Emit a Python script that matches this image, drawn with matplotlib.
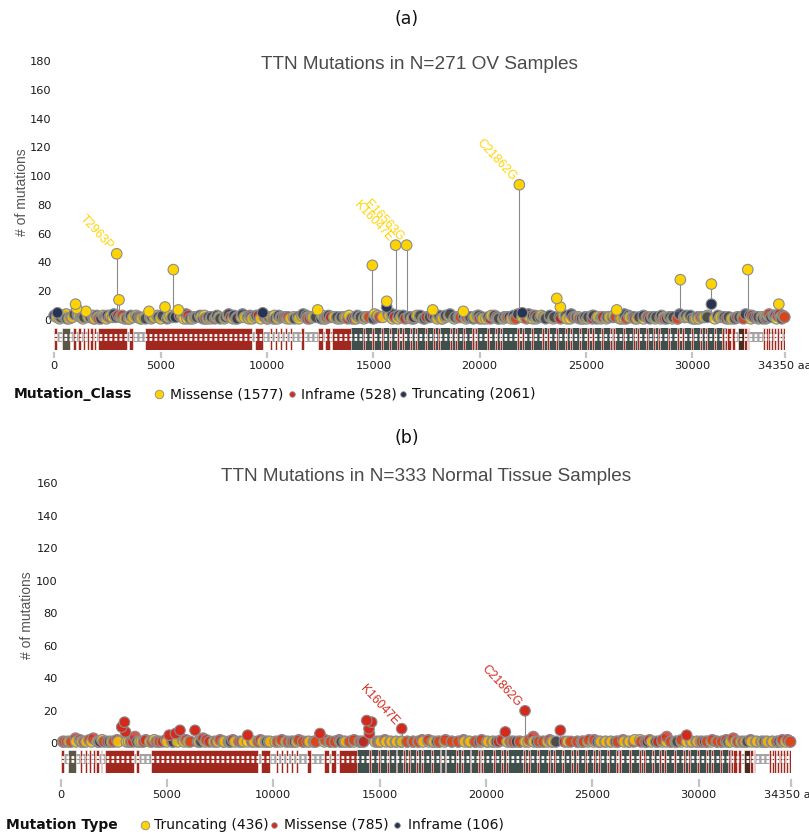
import matplotlib
matplotlib.use('Agg')
import matplotlib.pyplot as plt
from matplotlib.patches import Rectangle
from matplotlib.colors import to_rgba

# ---------------- data ----------------
PROTEIN_LENGTH = 34350
XTICKS = [0, 5000, 10000, 15000, 20000, 25000, 30000, 34350]
XTICK_LABELS = ['0', '5000', '10000', '15000', '20000', '25000', '30000', '34350 aa']
YTICKS_A = [0, 20, 40, 60, 80, 100, 120, 140, 160, 180]
YTICKS_B = [0, 20, 40, 60, 80, 100, 120, 140, 160]

# Panel (a): OV samples  (position, # of mutations)
ov_missense = [(120, 2), (420, 3), (700, 1), (1000, 11), (1050, 8), (1250, 2), (1490, 6), (1900, 1),
               (2300, 3), (2750, 2), (2933, 46), (3042, 14), (3300, 1), (3700, 2), (4100, 1), (4452, 6),
               (4700, 2), (5000, 1), (5205, 9), (5450, 3), (5596, 35), (5830, 7), (6100, 1), (6500, 1),
               (6900, 2), (7200, 1), (7600, 2), (8000, 1), (8400, 1), (8800, 2), (9300, 1), (9700, 1),
               (9900, 3), (10200, 2), (10500, 1), (10800, 2), (11100, 1), (11500, 1), (11900, 2), (12383, 7),
               (12600, 3), (12900, 2), (13300, 1), (13700, 2), (14200, 1), (14700, 2), (14950, 38), (15200, 3),
               (15626, 13), (15900, 1), (16047, 52), (16300, 2), (16563, 52), (16800, 1), (17200, 2), (17790, 7),
               (18000, 1), (18400, 2), (18800, 1), (19230, 6), (19500, 2), (19900, 3), (20300, 1), (20700, 2),
               (21100, 1), (21500, 1), (21862, 94), (22000, 2), (22500, 1), (22900, 3), (23300, 2), (23620, 15),
               (23790, 9), (24100, 1), (24500, 2), (24900, 1), (25300, 3), (25700, 1), (26100, 2), (26440, 7),
               (26800, 1), (27200, 2), (27700, 1), (28100, 2), (28500, 1), (28900, 2), (29300, 1), (29430, 28),
               (29800, 2), (30300, 1), (30700, 3), (30890, 25), (31300, 2), (31700, 1), (32200, 2), (32600, 35),
               (33100, 1), (33400, 2), (33800, 3), (34060, 11), (34150, 2),
               (250, 1), (560, 4), (850, 2), (1150, 3), (1350, 1), (1600, 2), (1800, 3), (2050, 2),
               (2450, 1), (2650, 3), (3150, 2), (3550, 1), (3850, 3), (4250, 2), (4550, 1), (4850, 3),
               (5350, 2), (6000, 3), (6250, 1), (6650, 2), (7050, 3), (7350, 1), (7750, 2), (8150, 3),
               (8550, 1), (8950, 2), (9150, 1), (9450, 2), (10050, 1), (10350, 3), (10650, 2), (10950, 1),
               (11250, 2), (11650, 3), (12150, 2), (12750, 1), (13150, 2), (13450, 1), (13850, 3), (14350, 2),
               (14550, 1), (15050, 4), (15450, 2), (15750, 3), (16150, 1), (16650, 2), (17050, 3), (17350, 1),
               (17650, 2), (18250, 1), (18550, 3), (19050, 2), (19350, 1), (19750, 2), (20150, 1), (20550, 3),
               (20850, 1), (21250, 2), (21650, 1), (22150, 3), (22350, 2), (22650, 1), (23050, 2), (23450, 1),
               (23950, 3), (24250, 1), (24650, 2), (25050, 1), (25550, 2), (25950, 1), (26300, 3), (26650, 1),
               (27050, 2), (27400, 1), (27850, 2), (28250, 1), (28650, 2), (29050, 1), (29650, 2), (30150, 1),
               (30550, 2), (31050, 1), (31450, 2), (31850, 1), (32350, 2), (32750, 1), (33250, 2), (33550, 3),
               (33950, 1), (34300, 2)]
ov_inframe = [(800, 2), (2100, 1), (2600, 2), (3200, 3), (3500, 1), (4000, 2), (6300, 3), (7100, 1),
              (8600, 2), (9600, 3), (10000, 1), (11000, 2), (12000, 1), (13000, 2), (14100, 1), (15300, 2),
              (16500, 1), (17500, 2), (18200, 1), (19400, 2), (20500, 1), (21300, 2), (22200, 1), (23000, 2),
              (24700, 1), (25800, 2), (26900, 1), (27900, 2), (28700, 1), (29600, 2), (30100, 1), (31200, 2),
              (32400, 1), (33000, 2), (33600, 4), (34000, 3), (34250, 3),
              (450, 3), (1300, 2), (1850, 1), (2400, 2), (3000, 3), (4500, 2), (5900, 3), (6600, 2),
              (7550, 1), (8300, 2), (9200, 3), (9900, 2), (10300, 1), (10800, 2), (11900, 1), (12800, 2),
              (13800, 1), (14800, 2), (16000, 2), (16900, 1), (17800, 3), (19100, 2), (20000, 1), (20800, 2),
              (21700, 1), (22600, 3), (23800, 1), (24400, 2), (25300, 1), (26400, 2), (27300, 1), (28500, 2),
              (29300, 1), (30400, 2), (31600, 1), (32100, 2), (32800, 3), (33450, 1), (33850, 3), (34100, 4),
              (34330, 2)]
ov_truncating = [(0, 3), (300, 2), (600, 1), (950, 4), (1700, 2), (2200, 1), (2500, 3), (2900, 2),
                 (3400, 1), (3900, 2), (4300, 1), (4900, 2), (5300, 1), (5700, 2), (6400, 1), (6700, 2),
                 (7000, 1), (7400, 2), (7800, 1), (8200, 4), (8600, 1), (9100, 2), (9500, 3), (10400, 1),
                 (10700, 2), (11300, 1), (11700, 4), (12100, 2), (12700, 1), (13500, 2), (14000, 1), (14400, 2),
                 (15000, 1), (15626, 9), (15700, 4), (16200, 3), (16700, 2), (17400, 1), (17900, 2), (18600, 4),
                 (19000, 2), (19700, 1), (20100, 2), (20900, 1), (21400, 2), (21800, 4), (22300, 4), (22700, 2),
                 (23100, 1), (23500, 2), (24300, 4), (24800, 1), (25100, 2), (25500, 1), (26000, 2), (26600, 1),
                 (27000, 3), (27500, 2), (28000, 1), (28300, 2), (28800, 1), (29100, 2), (29700, 3), (30000, 1),
                 (30500, 2), (30890, 11), (31500, 2), (32000, 1), (32500, 4), (32900, 2), (33300, 1), (33700, 2),
                 (150, 5), (500, 3), (1100, 4), (1400, 2), (2000, 3), (2350, 2), (2800, 4), (3100, 2),
                 (3600, 3), (4050, 1), (4600, 2), (5100, 3), (5550, 2), (6200, 4), (6850, 3), (7250, 2),
                 (7650, 3), (8050, 2), (8450, 3), (8850, 4), (9250, 2), (9800, 5), (10100, 2), (10550, 3),
                 (10900, 2), (11450, 2), (11850, 3), (12300, 2), (12550, 1), (12900, 3), (13300, 2), (13650, 2),
                 (14250, 3), (14600, 2), (15150, 2), (15900, 4), (16400, 3), (16900, 2), (17200, 3), (17650, 2),
                 (18100, 3), (18400, 3), (18850, 2), (19250, 3), (19550, 2), (19950, 3), (20400, 2), (20700, 3),
                 (21150, 2), (21600, 3), (22000, 5), (22500, 3), (22850, 2), (23300, 3), (23750, 2), (24050, 3),
                 (24550, 2), (24950, 2), (25350, 3), (25750, 2), (26250, 2), (26800, 4), (27250, 2), (27700, 3),
                 (28150, 2), (28550, 3), (28950, 2), (29400, 4), (29900, 3), (30250, 2), (30700, 2), (31200, 3),
                 (31700, 2), (32200, 2), (32700, 3), (33100, 2), (33500, 2), (33900, 3), (34200, 1)]
ov_labels = [(2933, 46, 'T2963P'), (16047, 52, 'K16047E'), (16563, 52, 'E16563G'), (21862, 94, 'C21862G')]
ov_legend = ['Missense (1577)', 'Inframe (528)', 'Truncating (2061)']

# Panel (b): normal tissue samples
nt_missense = [(300, 1), (700, 3), (1535, 3), (2036, 1), (2500, 1), (2870, 10), (3000, 13), (3050, 7),
               (3300, 1), (3495, 4), (3900, 1), (4500, 1), (4800, 1), (5100, 5), (5400, 6), (5611, 8),
               (5900, 2), (6317, 8), (6700, 3), (7000, 1), (7500, 2), (7900, 1), (8400, 1), (8795, 5),
               (9300, 1), (9800, 1), (10400, 2), (10900, 1), (11400, 1), (11900, 1), (12193, 6), (12700, 1),
               (13100, 2), (13600, 1), (14100, 1), (14393, 14), (14628, 13), (14500, 9), (14520, 6), (15000, 1),
               (15500, 1), (16039, 9), (16600, 1), (17000, 2), (17500, 1), (18100, 2), (18700, 1), (19200, 1),
               (19800, 2), (20300, 1), (20600, 1), (20913, 7), (21300, 1), (21840, 20), (22230, 4), (22700, 1),
               (23100, 1), (23500, 8), (24000, 1), (24600, 1), (25100, 2), (25600, 1), (26200, 1), (26700, 1),
               (27300, 1), (27700, 2), (28100, 1), (28504, 4), (28900, 1), (29444, 5), (29900, 1), (30400, 1),
               (30900, 1), (31300, 2), (31637, 3), (32100, 1), (32700, 1), (33200, 1), (33700, 1), (34196, 2),
               (150, 1), (500, 1), (900, 2), (1100, 1), (1350, 2), (1800, 1), (2200, 1), (2650, 2),
               (3400, 1), (4000, 2), (4300, 1), (4650, 1), (4950, 2), (5250, 1), (5750, 2), (6100, 1),
               (6450, 1), (6850, 2), (7300, 1), (7650, 1), (8100, 2), (8500, 1), (9000, 1), (9400, 2),
               (9650, 1), (10200, 1), (10700, 1), (11200, 2), (11600, 1), (12000, 1), (12450, 2), (12900, 1),
               (13350, 1), (13800, 2), (14250, 1), (14900, 1), (15250, 2), (15750, 1), (16300, 1), (16850, 1),
               (17300, 2), (17800, 1), (18400, 1), (18950, 2), (19500, 1), (20050, 1), (20750, 2), (21150, 1),
               (21600, 1), (22050, 2), (22500, 1), (23000, 2), (23700, 1), (24300, 1), (24850, 2), (25350, 1),
               (25850, 1), (26450, 2), (26950, 1), (27500, 1), (28300, 2), (28700, 1), (29200, 2), (29650, 1),
               (30150, 1), (30650, 2), (31100, 1), (31850, 1), (32450, 2), (32950, 1), (33450, 1), (33950, 2),
               (34320, 1)]
nt_truncating = [(100, 1), (720, 1), (1200, 1), (1720, 1), (2700, 1), (3200, 1), (3700, 1), (4200, 1),
                 (4400, 2), (5000, 1), (5800, 1), (6500, 1), (7200, 1), (7700, 1), (8200, 1), (8600, 1),
                 (9100, 1), (9500, 1), (10100, 1), (10600, 1), (11100, 1), (11700, 1), (12400, 1), (12900, 1),
                 (13400, 1), (13800, 1), (14800, 1), (15300, 1), (15800, 1), (16300, 1), (16800, 1), (17300, 1),
                 (17800, 1), (18400, 1), (19000, 1), (19500, 1), (20100, 1), (21000, 1), (21600, 1), (22000, 1),
                 (22500, 1), (22900, 1), (24300, 1), (24800, 1), (25400, 1), (25900, 1), (26500, 1), (27000, 2),
                 (27500, 1), (28300, 1), (28700, 1), (29200, 1), (29700, 1), (30100, 1), (30600, 1), (31100, 1),
                 (31500, 1), (32000, 1), (32500, 1), (33000, 1), (33500, 1), (33900, 1), (34300, 1),
                 (400, 1), (1000, 1), (1450, 1), (1950, 2), (2400, 1), (3100, 1), (3800, 1), (4600, 1),
                 (5500, 1), (6000, 1), (6800, 1), (7400, 1), (7950, 1), (8800, 1), (9300, 1), (9850, 1),
                 (10350, 1), (10850, 1), (11400, 1), (11950, 1), (12650, 1), (13150, 1), (13600, 1), (14050, 1),
                 (15050, 1), (15550, 1), (16050, 1), (16550, 1), (17050, 1), (17550, 1), (18050, 1), (18700, 1),
                 (19250, 1), (19800, 1), (20350, 1), (21250, 1), (21850, 1), (22250, 1), (22700, 1), (23150, 1),
                 (23850, 1), (24550, 1), (25050, 1), (25650, 1), (26200, 1), (26750, 1), (27250, 2), (27800, 1),
                 (28500, 1), (28950, 1), (29450, 1), (29950, 1), (30400, 1), (30850, 1), (31300, 1), (31750, 1),
                 (32200, 1), (32750, 1), (33250, 1), (33700, 1), (34100, 1)]
nt_inframe = [(954, 1), (2300, 1), (3600, 1), (5300, 1), (8000, 1), (11000, 1), (13200, 1), (16000, 1),
              (19700, 1), (20500, 1), (22400, 1), (23300, 1), (24500, 1), (26100, 1), (28000, 1), (30300, 1),
              (32300, 1), (33800, 1), (1850, 1), (6600, 1), (9700, 1), (14200, 1), (17700, 1), (21450, 1),
              (25250, 1), (27600, 1), (29000, 1), (31400, 1), (33100, 1)]
nt_labels = [(16039, 9, 'K16047E'), (21840, 20, 'C21862G')]
nt_legend = ['Truncating (436)', 'Missense (785)', 'Inframe (106)']

# Protein domains (start, end)
dom_ig = [(0, 140), (890, 1020), (1130, 1240), (1330, 1440), (1520, 1630), (1680, 1800), (1880, 1960),
          (2070, 3430), (3530, 3690), (4265, 9280), (9430, 9830), (10140, 10220), (10380, 10460),
          (10610, 10690), (10850, 10930), (11080, 11160), (11600, 11760), (12400, 12640), (12730, 12970),
          (13070, 13930), (31610, 31800), (31850, 32000), (32425, 32550), (32600, 32660)]
dom_ig_stripes = [14500, 14923, 15360, 15750, 16098, 16333, 16730, 16965, 17430, 17820, 18055, 18600,
                  18840, 19230, 19620, 19775, 20330, 20720, 20960, 21740, 21975, 22400, 22915, 23150,
                  23600, 24010, 24250, 24650, 25030, 25265, 25700, 26125, 26280, 26750, 27220, 27380,
                  27800, 28160, 28395, 28850, 29255, 29490, 29950, 30355, 30590, 31000, 31375, 31530,
                  33300, 33450, 33570, 33700, 33830, 33960, 34120, 34240]
dom_fn3 = [(13930, 31610)]
dom_zdisk = [(350, 740)]
dom_kinase = [(32120, 32420)]

# ---------------- style ----------------
C_YEL, C_RED, C_NAV = '#FFD300', '#D42A1E', '#283252'
C_IG, C_FN3, C_Z, C_KIN, C_BB = '#A1281F', '#3E4F4C', '#5D5546', '#4B2A1E', '#A3A3A3'
EDGE = '#8c8c8c'
W, H = 809, 834
PT = 72 / 100.0  # points per pixel

fig = plt.figure(figsize=(W / 100, H / 100), dpi=100)
over = fig.add_axes([0, 0, 1, 1])
over.set_xlim(0, W)
over.set_ylim(H, 0)
over.axis('off')
over.set_zorder(10)


def fbox(x0, y0, x1, y1):
    return [x0 / W, 1 - y1 / H, (x1 - x0) / W, (y1 - y0) / H]


def panel(x0, x1, zero_px, ppu, top_px, bot_px, dom_top, dom_bot, gap_px, tick_px, yticks,
          series, labels, label_color):
    ax = fig.add_axes(fbox(x0, top_px, x1, bot_px))
    ax.set_xlim(0, PROTEIN_LENGTH)
    ax.set_ylim((zero_px - bot_px) / ppu, (zero_px - top_px) / ppu)
    ax.patch.set_visible(False)
    for s in ax.spines.values():
        s.set_visible(False)
    ax.set_xticks([])
    ax.set_yticks(yticks)
    ax.tick_params(axis='y', length=0, pad=2, labelsize=8.2, labelcolor='#1a1a1a')
    ax.set_zorder(3)

    pts = []
    for data, col in series:
        for p, v in data:
            pts.append((p, v, col))
    pts.sort(key=lambda t: t[0])
    tall = [t for t in pts if t[1] >= 5]
    ax.vlines([t[0] for t in tall], 0, [t[1] for t in tall], color='#8a8a8a', lw=0.8, zorder=2)
    low = [t for t in pts if t[1] < 5]
    ax.scatter([t[0] for t in low], [t[1] for t in low], s=62,
               c=[to_rgba(t[2], 0.8) for t in low],
               edgecolors=EDGE, linewidths=0.9, zorder=3, clip_on=False)
    tall.sort(key=lambda t: t[1])
    ax.scatter([t[0] for t in tall], [t[1] for t in tall], s=58, c=[t[2] for t in tall],
               edgecolors=EDGE, linewidths=0.8, zorder=4, clip_on=False)
    for p, v, txt in labels:
        ax.annotate(txt, (p, v), xytext=(-4, 4), textcoords='offset points', rotation=-47,
                    rotation_mode='anchor', ha='right', va='center', color=label_color,
                    fontsize=8.8, family='Liberation Sans', zorder=5)

    # domain track
    ad = fig.add_axes(fbox(x0, dom_top, x1, dom_bot))
    ad.set_xlim(0, PROTEIN_LENGTH)
    ad.set_ylim(0, 1)
    ad.patch.set_visible(False)
    ad.set_yticks([])
    for k, s in ad.spines.items():
        s.set_visible(False)
    ad.spines['bottom'].set_position(('outward', gap_px * PT))
    ad.add_patch(Rectangle((0, 0.38), PROTEIN_LENGTH, 0.45, fc=C_BB, ec='none', zorder=1))
    for s, e in dom_fn3:
        ad.add_patch(Rectangle((s, 0), e - s, 1, fc=C_FN3, ec='none', zorder=2))
    for s, e in dom_zdisk:
        ad.add_patch(Rectangle((s, 0), e - s, 1, fc=C_Z, ec='white', lw=0.4, zorder=3))
    for s, e in dom_kinase:
        ad.add_patch(Rectangle((s, 0), e - s, 1, fc=C_KIN, ec='white', lw=0.4, zorder=3))
    for s, e in dom_ig:
        ad.add_patch(Rectangle((s, 0), e - s, 1, fc=C_IG, ec='white', lw=0.4, zorder=3))
    for s in dom_ig_stripes:
        ad.add_patch(Rectangle((s, 0), 90, 1, fc=C_IG, ec='white', lw=0.4, zorder=3))
    # white domain-name text band
    ad.hlines([0.5, 0.7], 0, PROTEIN_LENGTH, colors='white', lw=2.0, linestyles=(0, (1.0, 0.8)), zorder=4)
    ad.set_xticks(XTICKS)
    ad.set_xticklabels(XTICK_LABELS)
    ad.tick_params(axis='x', length=tick_px * PT, width=1.6, color='#c4c4c4', pad=2.5,
                   labelsize=8.2, labelcolor='#1a1a1a')
    return ax


panel(54.3, 785.0, 320.0, 1.439, 40, 327, 328, 350, 2, 6, YTICKS_A,
      [(ov_missense, C_YEL), (ov_inframe, C_RED), (ov_truncating, C_NAV)], ov_labels, C_YEL)
panel(60.7, 791.0, 743.3, 1.625, 455, 750, 750, 772.7, 6, 8, YTICKS_B,
      [(nt_truncating, C_YEL), (nt_missense, C_RED), (nt_inframe, C_NAV)], nt_labels, C_RED)

# titles and labels
over.text(407, 19, '(a)', ha='center', va='center', fontsize=12.5, color='#111')
over.text(407, 438, '(b)', ha='center', va='center', fontsize=12.5, color='#111')
over.text(419, 64, 'TTN Mutations in N=271 OV Samples', ha='center', va='center', fontsize=13.7,
          family='Liberation Sans', color='#4a4a4a')
over.text(426, 476, 'TTN Mutations in N=333 Normal Tissue Samples', ha='center', va='center',
          fontsize=13.7, family='Liberation Sans', color='#4a4a4a')
over.text(22, 192, '# of mutations', rotation=90, ha='center', va='center', fontsize=10,
          family='Liberation Sans', color='#555555')
over.text(27, 615, '# of mutations', rotation=90, ha='center', va='center', fontsize=10,
          family='Liberation Sans', color='#555555')


# legends
def legend(y, header, hx, items, dots):
    over.text(hx, y, header, ha='left', va='center', fontsize=10, fontweight='bold', color='#111')
    for (dx, col, size), (tx, txt) in zip(dots, items):
        over.scatter([dx], [y], s=size, c=col, edgecolors=EDGE, linewidths=0.6, zorder=11, clip_on=False)
        over.text(tx, y, txt, ha='left', va='center', fontsize=10, color='#111')


legend(394.3, 'Mutation_Class', 14,
       [(170, ov_legend[0]), (301, ov_legend[1]), (412, ov_legend[2])],
       [(159.3, C_YEL, 38), (291.7, C_RED, 16), (403, C_NAV, 16)])
legend(825, 'Mutation Type', 6,
       [(154, nt_legend[0]), (284, nt_legend[1]), (408, nt_legend[2])],
       [(145, C_YEL, 38), (274, C_RED, 16), (397, C_NAV, 16)])

fig.savefig('out.png', dpi=100)
